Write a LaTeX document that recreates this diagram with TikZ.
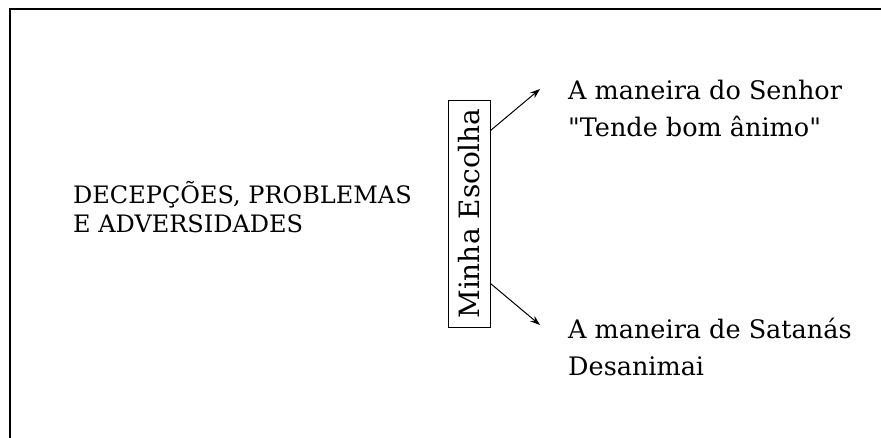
\documentclass[tikz,border=0pt]{standalone}
\usepackage{fontspec}
\setmainfont{DejaVu Serif}
\usetikzlibrary{arrows.meta,positioning}

\begin{document}
\begin{tikzpicture}[x=1pt,y=-1pt,
        every node/.style={inner sep=0pt},
        rotulo/.style={font=\fontsize{24}{29}\selectfont,align=left,anchor=base west},
        caminho/.style={font=\fontsize{25.5}{37}\selectfont,align=left,anchor=base west},
        escolha/.style={draw,line width=0.9pt,rotate=90,font=\fontsize{28}{30}\selectfont,
            minimum width=227pt,minimum height=42pt},
        seta/.style={-{Stealth[length=10pt,width=7pt]},line width=1pt}]
    \useasboundingbox (0,0) rectangle (881,437);
    \begin{scope}
        \clip (0,0) rectangle (881,437);
        \draw[line width=1.5pt] (10,9) rectangle (900,460);
    \end{scope}

    \node[rotulo] (problemas) at (73,232) {DECEPÇÕES, PROBLEMAS\\E ADVERSIDADES};
    \node[escolha] (escolha) at (469,213.5) {Minha Escolha};
    \node[caminho] (senhor) at (568,136) {A maneira do Senhor\\\textquotedbl Tende bom ânimo\textquotedbl};
    \node[caminho] (satanas) at (568,375) {A maneira de Satanás\\Desanimai};

    \coordinate (alto) at (540,89);
    \coordinate (baixo) at (540,325);
    \draw[seta] ([yshift=-31pt]escolha.south east) -- (alto);
    \draw[seta] ([yshift=44pt]escolha.south west) -- (baixo);
\end{tikzpicture}
\end{document}
